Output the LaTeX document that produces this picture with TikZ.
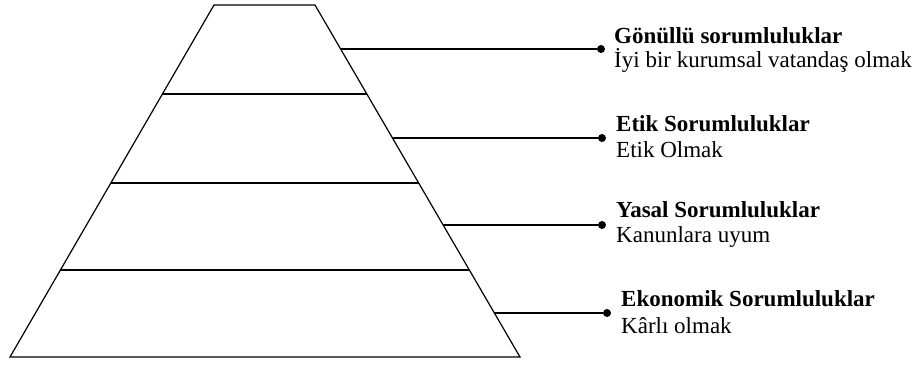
\documentclass[tikz,border=0pt]{standalone}
\usepackage{fontspec}
\setmainfont{Liberation Serif}
\usetikzlibrary{positioning}

\tikzset{
  outline/.style={line width=1.2pt,line join=miter},
  lead/.style={line width=1.1pt},
  dot/.style={circle,fill,inner sep=0pt,minimum size=8pt},
  head/.style={anchor=base west,inner sep=0pt,font=\fontsize{23}{26}\selectfont\bfseries},
  sub/.style={anchor=base west,inner sep=0pt,font=\fontsize{23}{26}\selectfont},
}

\begin{document}
\begin{tikzpicture}[x=1pt,y=-1pt]
\useasboundingbox (0,0) rectangle (915,365);
% pyramid and its layers
\draw[outline] (214,5) -- (315,5) -- (520,357) -- (10,357) -- cycle;
\draw[outline] (162.4,94) -- (366.8,94);
\draw[outline] (110.8,183) -- (418.7,183);
\draw[outline] (60.4,270) -- (469.3,270);
% points on the right side
\coordinate (gEdge) at (340.6,49);
\coordinate (eEdge) at (392.5,138);
\coordinate (yEdge) at (443.1,225);
\coordinate (kEdge) at (494.4,313);
% dots
\node[dot] (gDot) at (601,49) {};
\node[dot] (eDot) at (602,138) {};
\node[dot] (yDot) at (602,225) {};
\node[dot] (kDot) at (607,313) {};
\draw[lead] (gEdge) -- (gDot);
\draw[lead] (eEdge) -- (eDot);
\draw[lead] (yEdge) -- (yDot);
\draw[lead] (kEdge) -- (kDot);
% labels
\node[head] (gHead) at (614,43) {Gönüllü sorumluluklar};
\node[sub] (gSub) at (614,67) {İyi bir kurumsal vatandaş olmak};
\node[head] (eHead) at (616,131) {Etik Sorumluluklar};
\node[sub] (eSub) at (616,157) {Etik Olmak};
\node[head] (yHead) at (616,217) {Yasal Sorumluluklar};
\node[sub] (ySub) at (616,242) {Kanunlara uyum};
\node[head] (kHead) at (621,306) {Ekonomik Sorumluluklar};
\node[sub] (kSub) at (621,333) {Kârlı olmak};
\end{tikzpicture}
\end{document}
